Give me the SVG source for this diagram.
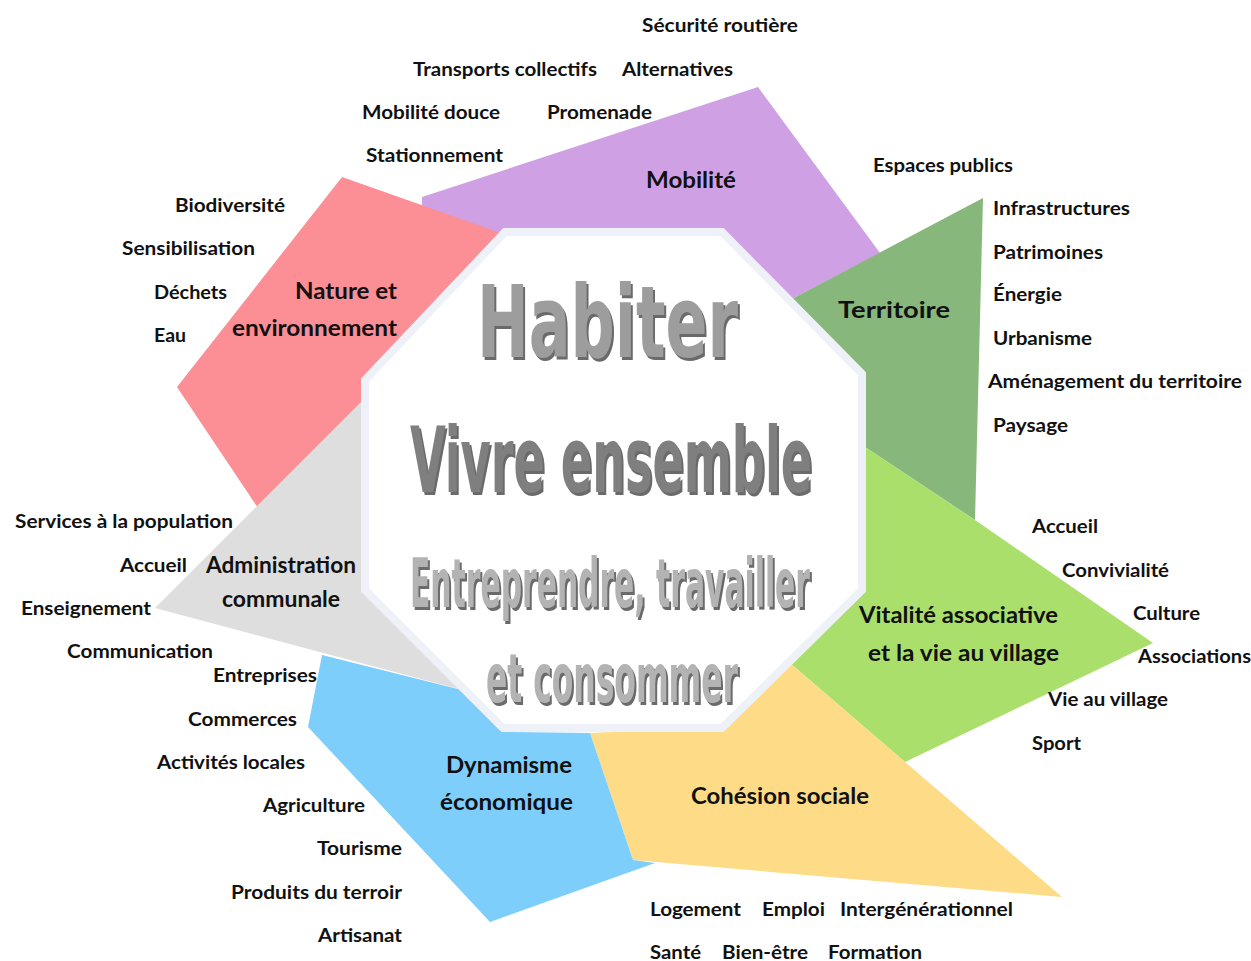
<svg xmlns="http://www.w3.org/2000/svg" width="1251" height="961" viewBox="0 0 1251 961">
<style>
.it{font-family:Lato,"Open Sans",sans-serif;font-weight:bold;font-size:19px;fill:#111}
.cat{font-family:Lato,"Open Sans",sans-serif;font-weight:bold;font-size:22px;fill:#111}
.big{font-family:"DejaVu Sans Condensed","Liberation Sans",sans-serif;font-weight:bold;filter:url(#sh)}
</style>
<defs>
<filter id="sh" x="-5%" y="-10%" width="110%" height="130%">
<feOffset in="SourceAlpha" dx="2" dy="3" result="o"/>
<feFlood flood-color="#6a6a6a"/>
<feComposite in2="o" operator="in" result="s"/>
<feMerge><feMergeNode in="s"/><feMergeNode in="SourceGraphic"/></feMerge>
</filter>
</defs>
<rect width="1251" height="961" fill="#ffffff"/>
<g id="mobilite"><polygon points="422,197 758,87 880,253 790,300 700,300 505,235 422,215" fill="#cfa1e4"/></g>
<g id="territoire"><polygon points="983,198 975,520 865,447 860,380 790,300" fill="#88b77b"/></g>
<g id="vitalite"><polygon points="865,447 975,520 1153,643 905,762 790,663 820,560" fill="#a9df6a"/></g>
<g id="cohesion"><polygon points="790,663 1062,897 633,860 590,733 723,727" fill="#fddb87"/></g>
<g id="dynamisme"><polygon points="322,655 470,692 510,732 590,733 633,860 655,863 490,922 308,727" fill="#7ecefc"/></g>
<g id="nature"><polygon points="342,177 515,238 420,350 258,508 177,387" fill="#fc8e95"/></g>
<g id="administration"><polygon points="155,608 380,383 380,600 470,692" fill="#dedede"/></g>
<g id="centre">
<polygon points="505,232 722,232 862,374 862,590 722,728 503,728 365,590 365,380" fill="#ffffff" stroke="#eef1f7" stroke-width="8"/>
<text class="big" x="477" y="357" font-size="100" textLength="261" lengthAdjust="spacingAndGlyphs" fill="#9d9d9d">Habiter</text>
<text class="big" x="410" y="492" font-size="90" textLength="402" lengthAdjust="spacingAndGlyphs" fill="#7f7f7f">Vivre ensemble</text>
<text class="big" x="410" y="607" font-size="68" textLength="400" lengthAdjust="spacingAndGlyphs" fill="#b3b3b3">Entreprendre, travailler</text>
<text class="big" x="486" y="702" font-size="68" textLength="252" lengthAdjust="spacingAndGlyphs" fill="#b3b3b3">et consommer</text>
</g>
<g id="labels">
<text class="it" x="642" y="32" textLength="156" lengthAdjust="spacingAndGlyphs">Sécurité routière</text>
<text class="it" x="413" y="76" textLength="184" lengthAdjust="spacingAndGlyphs">Transports collectifs</text>
<text class="it" x="622" y="76" textLength="111" lengthAdjust="spacingAndGlyphs">Alternatives</text>
<text class="it" x="362" y="119" textLength="138" lengthAdjust="spacingAndGlyphs">Mobilité douce</text>
<text class="it" x="547" y="119" textLength="105" lengthAdjust="spacingAndGlyphs">Promenade</text>
<text class="it" x="366" y="162" textLength="137" lengthAdjust="spacingAndGlyphs">Stationnement</text>
<text class="cat" x="646" y="188" textLength="90" lengthAdjust="spacingAndGlyphs">Mobilité</text>
<text class="it" x="873" y="172" textLength="140" lengthAdjust="spacingAndGlyphs">Espaces publics</text>
<text class="it" x="993" y="215" textLength="137" lengthAdjust="spacingAndGlyphs">Infrastructures</text>
<text class="it" x="993" y="259" textLength="110" lengthAdjust="spacingAndGlyphs">Patrimoines</text>
<text class="it" x="993" y="301" textLength="69" lengthAdjust="spacingAndGlyphs">Énergie</text>
<text class="it" x="993" y="345" textLength="99" lengthAdjust="spacingAndGlyphs">Urbanisme</text>
<text class="it" x="988" y="388" textLength="254" lengthAdjust="spacingAndGlyphs">Aménagement du territoire</text>
<text class="it" x="993" y="432" textLength="75" lengthAdjust="spacingAndGlyphs">Paysage</text>
<text class="cat" x="838" y="318" font-size="24" textLength="112" lengthAdjust="spacingAndGlyphs">Territoire</text>
<text class="it" x="175" y="212" textLength="110" lengthAdjust="spacingAndGlyphs">Biodiversité</text>
<text class="it" x="122" y="255" textLength="133" lengthAdjust="spacingAndGlyphs">Sensibilisation</text>
<text class="it" x="154" y="299" textLength="73" lengthAdjust="spacingAndGlyphs">Déchets</text>
<text class="it" x="154" y="342" textLength="32" lengthAdjust="spacingAndGlyphs">Eau</text>
<text class="cat" x="295" y="299" textLength="102" lengthAdjust="spacingAndGlyphs">Nature et</text>
<text class="cat" x="232" y="336" textLength="165" lengthAdjust="spacingAndGlyphs">environnement</text>
<text class="it" x="15" y="528" textLength="218" lengthAdjust="spacingAndGlyphs">Services à la population</text>
<text class="it" x="120" y="572" textLength="67" lengthAdjust="spacingAndGlyphs">Accueil</text>
<text class="cat" x="206" y="573" textLength="150" lengthAdjust="spacingAndGlyphs">Administration</text>
<text class="cat" x="222" y="607" textLength="118" lengthAdjust="spacingAndGlyphs">communale</text>
<text class="it" x="21" y="615" textLength="130" lengthAdjust="spacingAndGlyphs">Enseignement</text>
<text class="it" x="67" y="658" textLength="146" lengthAdjust="spacingAndGlyphs">Communication</text>
<text class="it" x="213" y="682" textLength="104" lengthAdjust="spacingAndGlyphs">Entreprises</text>
<text class="it" x="188" y="726" textLength="109" lengthAdjust="spacingAndGlyphs">Commerces</text>
<text class="it" x="157" y="769" textLength="148" lengthAdjust="spacingAndGlyphs">Activités locales</text>
<text class="it" x="263" y="812" textLength="102" lengthAdjust="spacingAndGlyphs">Agriculture</text>
<text class="it" x="317" y="855" textLength="85" lengthAdjust="spacingAndGlyphs">Tourisme</text>
<text class="it" x="231" y="899" textLength="171" lengthAdjust="spacingAndGlyphs">Produits du terroir</text>
<text class="it" x="318" y="942" textLength="84" lengthAdjust="spacingAndGlyphs">Artisanat</text>
<text class="cat" x="446" y="773" textLength="126" lengthAdjust="spacingAndGlyphs">Dynamisme</text>
<text class="cat" x="440" y="810" textLength="133" lengthAdjust="spacingAndGlyphs">économique</text>
<text class="cat" x="691" y="804" textLength="178" lengthAdjust="spacingAndGlyphs">Cohésion sociale</text>
<text class="it" x="650" y="916" textLength="91" lengthAdjust="spacingAndGlyphs">Logement</text>
<text class="it" x="762" y="916" textLength="63" lengthAdjust="spacingAndGlyphs">Emploi</text>
<text class="it" x="840" y="916" textLength="173" lengthAdjust="spacingAndGlyphs">Intergénérationnel</text>
<text class="it" x="650" y="959" textLength="51" lengthAdjust="spacingAndGlyphs">Santé</text>
<text class="it" x="722" y="959" textLength="86" lengthAdjust="spacingAndGlyphs">Bien-être</text>
<text class="it" x="828" y="959" textLength="94" lengthAdjust="spacingAndGlyphs">Formation</text>
<text class="cat" x="859" y="623" textLength="199" lengthAdjust="spacingAndGlyphs">Vitalité associative</text>
<text class="cat" x="868" y="661" textLength="191" lengthAdjust="spacingAndGlyphs">et la vie au village</text>
<text class="it" x="1032" y="533" textLength="66" lengthAdjust="spacingAndGlyphs">Accueil</text>
<text class="it" x="1062" y="577" textLength="107" lengthAdjust="spacingAndGlyphs">Convivialité</text>
<text class="it" x="1133" y="620" textLength="67" lengthAdjust="spacingAndGlyphs">Culture</text>
<text class="it" x="1138" y="663" textLength="113" lengthAdjust="spacingAndGlyphs">Associations</text>
<text class="it" x="1048" y="706" textLength="120" lengthAdjust="spacingAndGlyphs">Vie au village</text>
<text class="it" x="1032" y="750" textLength="49" lengthAdjust="spacingAndGlyphs">Sport</text>
</g>
</svg>
